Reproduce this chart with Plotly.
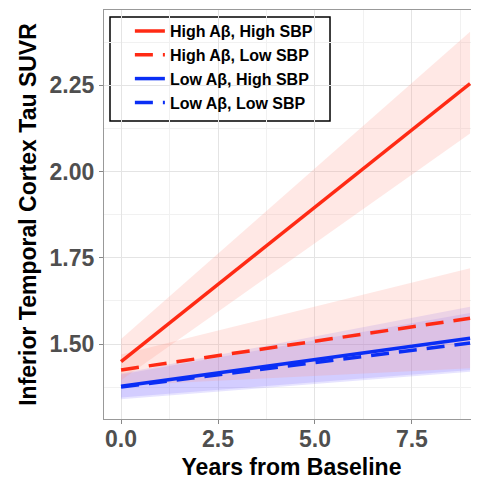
import plotly.graph_objects as go

# Data
years = [0, 9]
series_names = ["High Aβ, High SBP", "High Aβ, Low SBP", "Low Aβ, High SBP", "Low Aβ, Low SBP"]
fit_hh = [1.449, 2.255]
fit_hl = [1.425, 1.575]
fit_lh = [1.378, 1.517]
fit_ll = [1.376, 1.503]
lo_hh = [1.395, 2.110]
hi_hh = [1.515, 2.405]
lo_hl = [1.380, 1.430]
hi_hl = [1.470, 1.720]
lo_lh = [1.345, 1.425]
hi_lh = [1.415, 1.608]
lo_ll = [1.340, 1.420]
hi_ll = [1.412, 1.590]
x_ticks = [0, 2.5, 5, 7.5]
x_tick_labels = ["0.0", "2.5", "5.0", "7.5"]
y_ticks = [1.5, 1.75, 2.0, 2.25]
y_tick_labels = ["1.50", "1.75", "2.00", "2.25"]

RED = "#FF2A14"
BLUE = "#0A2EF5"
PINK_FILL = "rgba(255,150,135,0.22)"
BLUE_FILL = "rgba(115,95,255,0.17)"

fig = go.Figure()

def ribbon(lo, hi, color):
    fig.add_trace(go.Scatter(
        x=years + years[::-1], y=lo + hi[::-1], fill="toself",
        fillcolor=color, line=dict(width=0), mode="lines",
        hoverinfo="skip", showlegend=False))

ribbon(lo_lh, hi_lh, BLUE_FILL)
ribbon(lo_ll, hi_ll, BLUE_FILL)
ribbon(lo_hh, hi_hh, PINK_FILL)
ribbon(lo_hl, hi_hl, PINK_FILL)

styles = [(fit_hh, RED, "solid"), (fit_hl, RED, "18px,10px"),
          (fit_lh, BLUE, "solid"), (fit_ll, BLUE, "18px,10px")]
for name, (vals, col, dash) in zip(series_names, styles):
    fig.add_trace(go.Scatter(x=years, y=vals, mode="lines", name=name,
                             line=dict(color=col, width=3.5, dash=dash)))

tick_font = dict(family="Liberation Sans", size=23, color="#4F4F4F", weight="bold")
title_font = dict(family="Liberation Sans", size=23, color="black", weight="bold")

# legend frame
fig.add_shape(type="rect", xref="paper", yref="paper",
              x0=0.016, x1=0.6027, y0=0.7286, y1=0.983,
              line=dict(color="black", width=1.5), fillcolor="white", layer="below")

fig.update_layout(
    width=471, height=474,
    margin=dict(l=96, r=0, t=2, b=63),
    paper_bgcolor="white", plot_bgcolor="white",
    legend=dict(x=0.069, y=0.99, xanchor="left", yanchor="top",
                bgcolor="rgba(0,0,0,0)", borderwidth=0,
                font=dict(family="Liberation Sans", size=16, color="black", weight="bold"),
                tracegroupgap=0),
    xaxis=dict(range=[-0.44, 9.23], tickvals=x_ticks, ticktext=x_tick_labels,
               tickfont=tick_font, ticks="outside", ticklen=4, tickcolor="#888",
               ticklabelstandoff=-5,
               showline=True, linecolor="#999", linewidth=1.2, mirror=True,
               showgrid=True, gridcolor="#E4E4E4", gridwidth=1,
               minor=dict(dtick=1.25, tick0=0, showgrid=True, gridcolor="#F1F1F1", gridwidth=0.6),
               zeroline=False,
               title=dict(text="Years from Baseline", font=title_font, standoff=8)),
    yaxis=dict(range=[1.283, 2.468], tickvals=y_ticks, ticktext=y_tick_labels,
               tickfont=tick_font, ticks="outside", ticklen=4, tickcolor="#888",
               showline=True, linecolor="#999", linewidth=1.2, mirror=True,
               showgrid=True, gridcolor="#E4E4E4", gridwidth=1,
               minor=dict(dtick=0.125, tick0=1.5, showgrid=True, gridcolor="#F1F1F1", gridwidth=0.6),
               zeroline=False,
               title=dict(text="Inferior Temporal Cortex Tau SUVR", font=title_font, standoff=6)),
)

fig.write_html("out.html")
